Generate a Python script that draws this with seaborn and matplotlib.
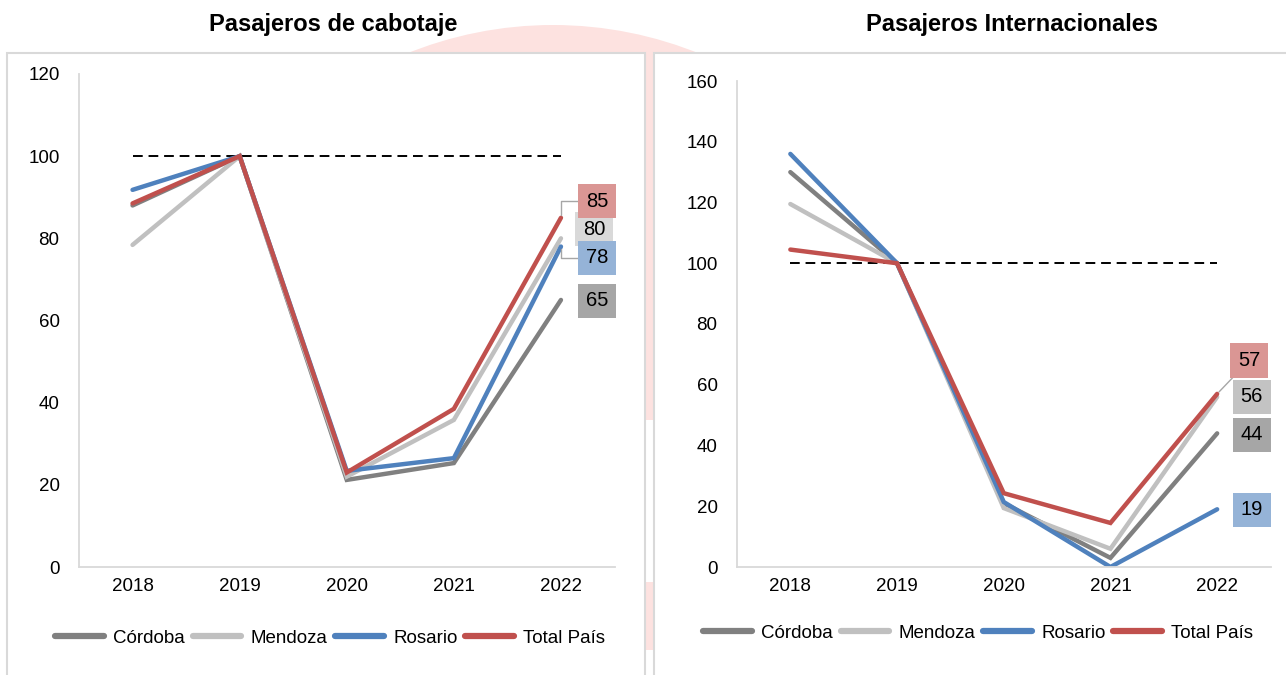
import matplotlib.pyplot as plt
import matplotlib.patches as mpatches
import seaborn as sns
import pandas as pd

# data (index 2019 = 100)
years = [2018, 2019, 2020, 2021, 2022]
series = ['Córdoba', 'Mendoza', 'Rosario', 'Total País']

cab_cordoba = [88, 100, 21.2, 25.3, 65]
cab_mendoza = [78.4, 100, 22, 35.8, 80]
cab_rosario = [91.8, 100, 23.4, 26.5, 78]
cab_total = [88.5, 100, 23, 38.5, 85]

int_cordoba = [130, 100, 21, 3, 44]
int_mendoza = [119.5, 100, 19.4, 6, 56]
int_rosario = [136, 100, 21.4, 0, 19]
int_total = [104.5, 100, 24.3, 14.5, 57]

base = [100, 100, 100, 100, 100]

line_colors = ['#808080', '#c0c0c0', '#4f81bd', '#c0504d']
label_colors_cab = ['#a6a6a6', '#d9d9d9', '#95b3d7', '#da9694']
label_colors_int = ['#a6a6a6', '#c3c3c3', '#95b3d7', '#da9694']

sns.set_style('white')
plt.rcParams['font.family'] = ['Liberation Sans', 'DejaVu Sans']
plt.rcParams['text.color'] = 'black'

W, H = 1286, 675
fig = plt.figure(figsize=(W / 100, H / 100), dpi=100)
fig.patch.set_facecolor('white')


def px(x0, y0, x1, y1):
    # pixel box (top-left origin) -> figure fraction rect
    return [x0 / W, 1 - y1 / H, (x1 - x0) / W, (y1 - y0) / H]


# faint pink background artefact between the panels
fig.patches.append(mpatches.Ellipse((553 / W, 1 - 414 / H), 2 * 389 / W, 2 * 389 / H,
                                    transform=fig.transFigure, facecolor='#fde2e0',
                                    edgecolor='none', zorder=-3))
for (x0, y0, x1, y1) in [(0, 420, W, 582), (0, 650, W, H)]:
    r = px(x0, y0, x1, y1)
    fig.patches.append(mpatches.Rectangle((r[0], r[1]), r[2], r[3], transform=fig.transFigure,
                                          facecolor='white', edgecolor='none', zorder=-2))

# panel frames
for (x0, y0, x1, y1) in [(7, 53, 645, 690), (654, 53, 1300, 690)]:
    r = px(x0, y0, x1, y1)
    fig.patches.append(mpatches.Rectangle((r[0], r[1]), r[2], r[3], transform=fig.transFigure,
                                          facecolor='white', edgecolor='#d9d9d9',
                                          linewidth=1.5, zorder=-1))

fig.text(333 / W, 1 - 25 / H, 'Pasajeros de cabotaje', ha='center', va='center',
         fontsize=17, fontweight='bold')
fig.text(1012 / W, 1 - 25 / H, 'Pasajeros Internacionales', ha='center', va='center',
         fontsize=17, fontweight='bold')

ax1 = fig.add_axes(px(79, 74, 614.5, 567))
ax2 = fig.add_axes(px(737, 81, 1270.5, 567))

# label offsets (points) per series: Córdoba, Mendoza, Rosario, Total País
panels = [
    (ax1, [cab_cordoba, cab_mendoza, cab_rosario, cab_total], 120, 20, label_colors_cab,
     [(26, -0.5), (24, 6.5), (26, -8), (26, 12)], -0.144, 0.469),
    (ax2, [int_cordoba, int_mendoza, int_rosario, int_total], 160, 20, label_colors_int,
     [(25, -1), (25, 0), (25, -0.5), (23, 24)], -0.136, 0.452),
]

for ax, vals, ymax, step, lcols, offsets, leg_y, leg_x in panels:
    ax.set_facecolor('none')
    df = pd.DataFrame({'year': years * 4,
                       'value': sum(vals, []),
                       'serie': [s for s in series for _ in years]})
    sns.lineplot(data=df, x='year', y='value', hue='serie', hue_order=series,
                 palette=line_colors, linewidth=3.2, ax=ax, legend=False,
                 solid_capstyle='round', solid_joinstyle='miter')
    ax.plot(years, base, color='black', linestyle=(0, (5, 3)), linewidth=1.4, zorder=1)

    ax.set_xlim(2017.5, 2022.5)
    ax.set_ylim(0, ymax)
    ax.set_xticks(years)
    ax.set_yticks(range(0, ymax + 1, step))
    ax.tick_params(axis='both', length=0, labelsize=13.5, pad=8, labelcolor='black')
    ax.tick_params(axis='y', pad=14)
    ax.set_xlabel('')
    ax.set_ylabel('')
    for s in ['top', 'right']:
        ax.spines[s].set_visible(False)
    for s in ['left', 'bottom']:
        ax.spines[s].set_color('#d9d9d9')
        ax.spines[s].set_linewidth(1.3)

    # end labels
    for i, v in enumerate(vals):
        last = v[-1]
        dx, dy = offsets[i]
        if ax is ax1 and i in (2, 3):
            arrow = dict(arrowstyle='-', color='#a6a6a6', lw=1,
                         connectionstyle='angle,angleA=0,angleB=90,rad=0',
                         shrinkA=0, shrinkB=2)
        elif ax is ax2 and i == 3:
            arrow = dict(arrowstyle='-', color='#a6a6a6', lw=1, shrinkA=0, shrinkB=2)
        else:
            arrow = None
        ax.annotate(f'{last:.0f}', xy=(years[-1], last), xytext=(dx, dy),
                    textcoords='offset points', ha='center', va='center', fontsize=14.5,
                    bbox=dict(boxstyle='square,pad=0.38', facecolor=lcols[i], edgecolor='none'),
                    arrowprops=arrow, annotation_clip=False, zorder=5)

    handles = [plt.Line2D([], [], color=c, linewidth=4.5, solid_capstyle='round')
               for c in line_colors]
    ax.legend(handles, series, loc='center', bbox_to_anchor=(leg_x, leg_y), ncol=4,
              frameon=False, fontsize=13.5, handlelength=2.6, handletextpad=0.5,
              columnspacing=0.4)

fig.savefig('out.png', dpi=100)
